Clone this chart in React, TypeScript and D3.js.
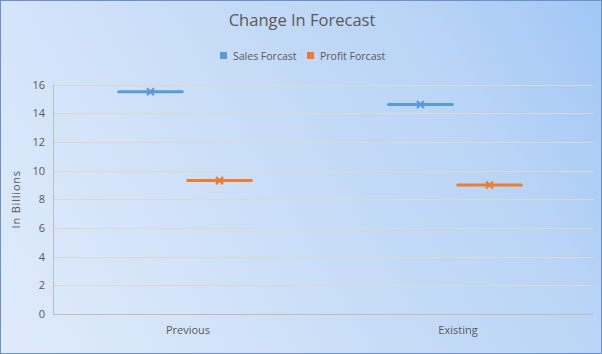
import React, { useEffect, useRef } from 'react';
import * as d3 from 'd3';

const categories = ['Previous', 'Existing'];
const seriesNames = ['Sales Forcast', 'Profit Forcast'];
const salesValues = [15.5, 14.6];
const profitValues = [9.3, 9.0];
const yTicks = [0, 2, 4, 6, 8, 10, 12, 14, 16];

const colors: Record<string, string> = {
  'Sales Forcast': '#5b9bd5',
  'Profit Forcast': '#ed7d31'
};

const App: React.FC = () => {
  const svgRef = useRef<SVGSVGElement>(null);

  useEffect(() => {
    const width = 602;
    const height = 354;
    const margin = { top: 84.5, right: 9, bottom: 40, left: 53 };
    const font = 'Open Sans, Noto Sans, sans-serif';

    const svg = d3.select(svgRef.current);
    svg.selectAll('*').remove();
    svg.attr('width', width).attr('height', height);

    // background gradient, light bottom-left to saturated top-right
    const defs = svg.append('defs');
    const grad = defs.append('linearGradient')
      .attr('id', 'bg')
      .attr('gradientUnits', 'userSpaceOnUse')
      .attr('x1', 0).attr('y1', height)
      .attr('x2', width).attr('y2', 0);
    [
      ['0%', '#dfebfb'],
      ['26%', '#d4e4f9'],
      ['50%', '#c6dcf7'],
      ['74%', '#bbd5f6'],
      ['100%', '#a1c7f5']
    ].forEach(([o, c]) => grad.append('stop').attr('offset', o).attr('stop-color', c));

    svg.append('rect')
      .attr('x', 0.5).attr('y', 0.5)
      .attr('width', width - 1).attr('height', height - 1)
      .attr('fill', 'url(#bg)')
      .attr('stroke', '#6f8fcb');

    const x0 = d3.scaleBand<string>()
      .domain(categories)
      .range([margin.left, width - margin.right]);

    const x1 = d3.scaleBand<string>()
      .domain(seriesNames)
      .range([0, x0.bandwidth() - 6])
      .paddingInner(0.08)
      .paddingOuter(0.95);

    const y = d3.scaleLinear()
      .domain([0, 16])
      .range([height - margin.bottom, margin.top]);

    // gridlines
    svg.append('g')
      .selectAll('line')
      .data(yTicks.filter(t => t > 0))
      .enter().append('line')
      .attr('x1', margin.left)
      .attr('x2', width - margin.right)
      .attr('y1', d => Math.round(y(d)) + 0.5)
      .attr('y2', d => Math.round(y(d)) + 0.5)
      .attr('stroke', '#dcd8d2')
      .attr('stroke-width', 1);

    // axis lines
    svg.append('line')
      .attr('x1', margin.left + 0.5).attr('x2', margin.left + 0.5)
      .attr('y1', y(16)).attr('y2', y(0))
      .attr('stroke', '#bfbfbf');
    svg.append('line')
      .attr('x1', margin.left).attr('x2', width - margin.right)
      .attr('y1', Math.round(y(0)) + 0.5).attr('y2', Math.round(y(0)) + 0.5)
      .attr('stroke', '#c3bdb6');

    // y tick labels
    svg.append('g')
      .selectAll('text')
      .data(yTicks)
      .enter().append('text')
      .attr('x', 45)
      .attr('y', d => y(d) + 4)
      .attr('text-anchor', 'end')
      .attr('font-family', font)
      .attr('font-size', 11)
      .attr('fill', '#595959')
      .text(d => d);

    // y axis title
    svg.append('text')
      .attr('transform', `translate(20,${(y(0) + y(16)) / 2}) rotate(-90)`)
      .attr('text-anchor', 'middle')
      .attr('font-family', font)
      .attr('font-size', 11)
      .attr('letter-spacing', 0.8)
      .attr('fill', '#595959')
      .text('In Billions');

    // x labels
    svg.append('g')
      .selectAll('text')
      .data(categories)
      .enter().append('text')
      .attr('x', d => (x0(d) ?? 0) + x0.bandwidth() / 2)
      .attr('y', 334)
      .attr('text-anchor', 'middle')
      .attr('font-family', font)
      .attr('font-size', 11)
      .attr('fill', '#595959')
      .text(d => d);

    // marks: a dash with an x marker per series and category
    const rows = categories.flatMap((c, i) => [
      { cat: c, series: seriesNames[0], value: salesValues[i] },
      { cat: c, series: seriesNames[1], value: profitValues[i] }
    ]);

    const mark = svg.append('g')
      .selectAll('g')
      .data(rows)
      .enter().append('g')
      .attr('transform', d => `translate(${(x0(d.cat) ?? 0) + (x1(d.series) ?? 0)},${y(d.value)})`);

    mark.append('line')
      .attr('x1', 0)
      .attr('x2', x1.bandwidth())
      .attr('y1', 0).attr('y2', 0)
      .attr('stroke', d => colors[d.series])
      .attr('stroke-width', 3)
      .attr('stroke-linecap', 'round');

    const s = 3.5;
    const cx = x1.bandwidth() / 2;
    mark.append('path')
      .attr('d', `M${cx - s},${-s}L${cx + s},${s}M${cx - s},${s}L${cx + s},${-s}`)
      .attr('stroke', d => colors[d.series])
      .attr('stroke-width', 2.2)
      .attr('fill', 'none');

    // title
    svg.append('text')
      .attr('x', 302)
      .attr('y', 26)
      .attr('text-anchor', 'middle')
      .attr('font-family', font)
      .attr('font-size', 16.5)
      .attr('fill', '#595959')
      .text('Change In Forecast');

    // legend
    const legendItems = [
      { name: seriesNames[0], x: 220 },
      { name: seriesNames[1], x: 307 }
    ];
    const lg = svg.append('g')
      .selectAll('g')
      .data(legendItems)
      .enter().append('g')
      .attr('transform', d => `translate(${d.x},52)`);
    lg.append('rect')
      .attr('width', 7).attr('height', 7)
      .attr('fill', d => colors[d.name]);
    lg.append('text')
      .attr('x', 13)
      .attr('y', 7.5)
      .attr('font-family', font)
      .attr('font-size', 10.5)
      .attr('fill', '#595959')
      .text(d => d.name);
  }, []);

  return (
    <div style={{ position: 'absolute', left: 0, top: 0 }}>
      <svg ref={svgRef} style={{ display: 'block' }}></svg>
    </div>
  );
};

export default App;
